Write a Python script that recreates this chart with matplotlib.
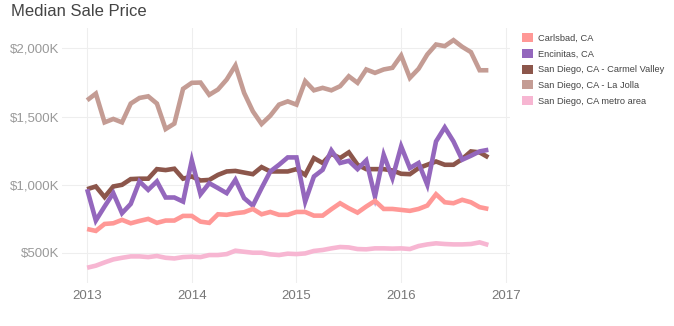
import numpy as np
import matplotlib
matplotlib.use("Agg")
import matplotlib.pyplot as plt
from matplotlib.patches import Patch

plt.rcParams['font.family'] = ['Liberation Sans', 'DejaVu Sans']

# monthly medians, Jan 2013 .. Nov 2016 (thousands of $)
months = 2013 + np.arange(47) / 12.0

carlsbad = [676, 662, 713, 718, 743, 718, 735, 750, 721, 738, 738, 772,
            772, 730, 721, 784, 780, 792, 799, 823, 784, 801, 780, 780,
            801, 801, 774, 774, 821, 865, 828, 796, 841, 882, 823, 823,
            816, 809, 823, 848, 931, 872, 865, 890, 872, 836, 823]
encinitas = [968, 738, 841, 939, 792, 860, 1025, 963, 1025, 907, 907, 877,
             1179, 931, 1012, 976, 939, 1037, 902, 848, 976, 1098, 1147, 1201,
             1201, 877, 1061, 1110, 1252, 1160, 1176, 1115, 1179, 914, 1220, 1049,
             1282, 1123, 1160, 1000, 1318, 1421, 1318, 1184, 1213, 1245, 1257]
carmel_valley = [968, 988, 910, 988, 1000, 1042, 1045, 1045, 1115, 1108, 1118, 1045,
                 1061, 1032, 1036, 1073, 1098, 1102, 1090, 1078, 1130, 1098, 1098, 1098,
                 1115, 1073, 1196, 1160, 1228, 1196, 1238, 1147, 1115, 1115, 1115, 1105,
                 1081, 1078, 1123, 1147, 1171, 1147, 1147, 1189, 1245, 1238, 1201]
la_jolla = [1620, 1669, 1458, 1483, 1458, 1596, 1637, 1649, 1596, 1409, 1449, 1704,
            1748, 1750, 1660, 1699, 1772, 1875, 1674, 1539, 1446, 1507, 1588, 1612,
            1588, 1760, 1693, 1711, 1693, 1723, 1796, 1748, 1846, 1821, 1846, 1858,
            1948, 1784, 1851, 1956, 2029, 2017, 2061, 2012, 1973, 1840, 1840]
metro = [392, 407, 431, 453, 465, 475, 475, 470, 478, 465, 460, 470,
         473, 470, 485, 485, 492, 517, 509, 502, 502, 490, 485, 495,
         492, 497, 515, 522, 534, 544, 541, 529, 527, 534, 534, 532,
         534, 529, 551, 563, 571, 566, 563, 563, 566, 578, 559]

names = ["Carlsbad, CA", "Encinitas, CA", "San Diego, CA - Carmel Valley",
         "San Diego, CA - La Jolla", "San Diego, CA metro area"]
series = [carlsbad, encinitas, carmel_valley, la_jolla, metro]
colors = ["#ff9896", "#9467bd", "#8c564b", "#c49c94", "#f7b6d2"]

fig = plt.figure(figsize=(6.74, 3.26), dpi=100)
ax = fig.add_axes([62 / 674, 1 - 283 / 326, 448 / 674, 255 / 326])

# draw back to front so Carlsbad ends on top, purple over brown
for i in [4, 3, 2, 1, 0]:
    ax.plot(months, series[i], color=colors[i], lw=3.3, solid_joinstyle='miter',
            solid_capstyle='butt', zorder=3)

ax.set_xlim(2012.76, 2017.04)
ax.set_ylim(280, 2150)
ax.set_xticks([2013, 2014, 2015, 2016, 2017])
ax.set_xticklabels(["2013", "2014", "2015", "2016", "2017"])
ax.set_yticks([500, 1000, 1500, 2000])
ax.set_yticklabels(["$500K", "$1,000K", "$1,500K", "$2,000K"])
ax.tick_params(axis='x', length=0, labelsize=9.5, labelcolor="#777777", pad=5)
ax.tick_params(axis='y', length=0, labelsize=9.5, labelcolor="#999999", pad=2)
ax.grid(True, color="#eeeeee", lw=0.8)
for s in ax.spines.values():
    s.set_visible(False)

fig.text(11 / 674, 1 - 12 / 326, "Median Sale Price", fontsize=12, color="#444444",
         va='center', ha='left')

handles = [Patch(facecolor=c, edgecolor='none') for c in colors]
fig.legend(handles, names, loc='upper left', bbox_to_anchor=(514 / 674, 1 - 25 / 326),
           frameon=False, fontsize=6.7, handlelength=1.1, handleheight=1.1,
           handletextpad=0.6, labelspacing=0.65, labelcolor="#444444")

fig.savefig("out.png", dpi=100)
